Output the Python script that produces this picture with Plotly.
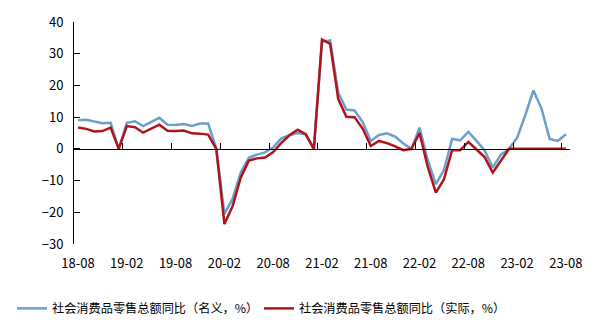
import plotly.graph_objects as go

months = ["18-08","18-09","18-10","18-11","18-12",
          "19-01","19-02","19-03","19-04","19-05","19-06","19-07","19-08","19-09","19-10","19-11","19-12",
          "20-01","20-02","20-03","20-04","20-05","20-06","20-07","20-08","20-09","20-10","20-11","20-12",
          "21-01","21-02","21-03","21-04","21-05","21-06","21-07","21-08","21-09","21-10","21-11","21-12",
          "22-01","22-02","22-03","22-04","22-05","22-06","22-07","22-08","22-09","22-10","22-11","22-12",
          "23-01","23-02","23-03","23-04","23-05","23-06","23-07","23-08"]

nominal = [9.0, 9.2, 8.6, 8.1, 8.2,
           0.0, 8.2, 8.7, 7.2, 8.6, 9.8, 7.6, 7.5, 7.8, 7.2, 8.0, 8.0,
           0.0, -20.5, -15.8, -7.5, -2.8, -1.8, -1.1, 0.5, 3.3, 4.3, 5.0, 4.6,
           0.0, 33.8, 34.2, 17.7, 12.4, 12.1, 8.5, 2.5, 4.4, 4.9, 3.9, 1.7,
           0.0, 6.7, -3.5, -11.1, -6.7, 3.1, 2.7, 5.4, 2.5, -0.5, -5.9, -1.8,
           0.0, 3.5, 10.6, 18.4, 12.7, 3.1, 2.5, 4.6]

real = [6.7, 6.3, 5.5, 5.6, 6.7,
        0.0, 7.2, 6.8, 5.1, 6.4, 7.6, 5.7, 5.6, 5.8, 4.9, 4.8, 4.5,
        0.0, -23.7, -18.1, -9.1, -3.7, -3.0, -2.7, -1.0, 1.9, 4.3, 6.0, 4.6,
        0.0, 34.5, 33.1, 15.7, 10.1, 10.0, 6.4, 0.9, 2.5, 1.8, 0.8, -0.4,
        0.0, 5.0, -5.6, -13.8, -9.6, -0.4, -0.4, 2.2, -0.2, -2.6, -7.5, -3.8,
        0.0, 0.0, 0.0, 0.0, 0.0, 0.0, 0.0, 0.0]

names = ["社会消费品零售总额同比（名义，%）", "社会消费品零售总额同比（实际，%）"]
tick_labels = ["18-08","19-02","19-08","20-02","20-08","21-02","21-08","22-02","22-08","23-02","23-08"]

x = list(range(len(months)))
tick_idx = [months.index(t) for t in tick_labels]
tick_pos = [i - 0.5 for i in tick_idx]

FONT = "Noto Sans CJK SC"

fig = go.Figure()
fig.add_trace(go.Scatter(x=x, y=nominal, mode="lines", name=names[0],
                         line=dict(color="#6c9fcb", width=2.5)))
fig.add_trace(go.Scatter(x=x, y=real, mode="lines", name=names[1],
                         line=dict(color="#b0141a", width=2.5)))

fig.update_layout(
    width=598, height=336,
    margin=dict(l=70, r=28, t=19, b=92),
    paper_bgcolor="white", plot_bgcolor="white",
    font=dict(family=FONT, size=12, color="black"),
    showlegend=True,
    legend=dict(orientation="h", x=-0.125, xanchor="left", y=-0.29, yanchor="middle",
                font=dict(family=FONT, size=12.2, color="black"),
                itemwidth=30, entrywidth=202, tracegroupgap=0, bgcolor="rgba(0,0,0,0)"),
    xaxis=dict(range=[-0.5, len(months) - 0.5], tickmode="array", tickvals=tick_pos,
               ticktext=tick_labels, showline=False, ticks="", showgrid=False,
               zeroline=False, ticklabelshift=4, ticklabelstandoff=10,
               tickfont=dict(family=FONT, size=13)),
    xaxis2=dict(range=[-0.5, len(months) - 0.5], overlaying="x", anchor="free",
                position=30/70, side="bottom", showline=True, linecolor="black", linewidth=1,
                ticks="inside", ticklen=6, tickcolor="black", tickmode="array",
                tickvals=tick_pos, showticklabels=False, showgrid=False, zeroline=False),
    yaxis=dict(range=[-30, 40], dtick=10, tick0=0, showline=True, linecolor="black",
               linewidth=1, ticks="inside", ticklen=6, tickcolor="black",
               showgrid=False, zeroline=False, ticklabelstandoff=7,
               tickfont=dict(family=FONT, size=13)),
)
fig.add_trace(go.Scatter(x=[None], y=[None], xaxis="x2", showlegend=False, hoverinfo="skip"))

fig.write_html("out.html")
